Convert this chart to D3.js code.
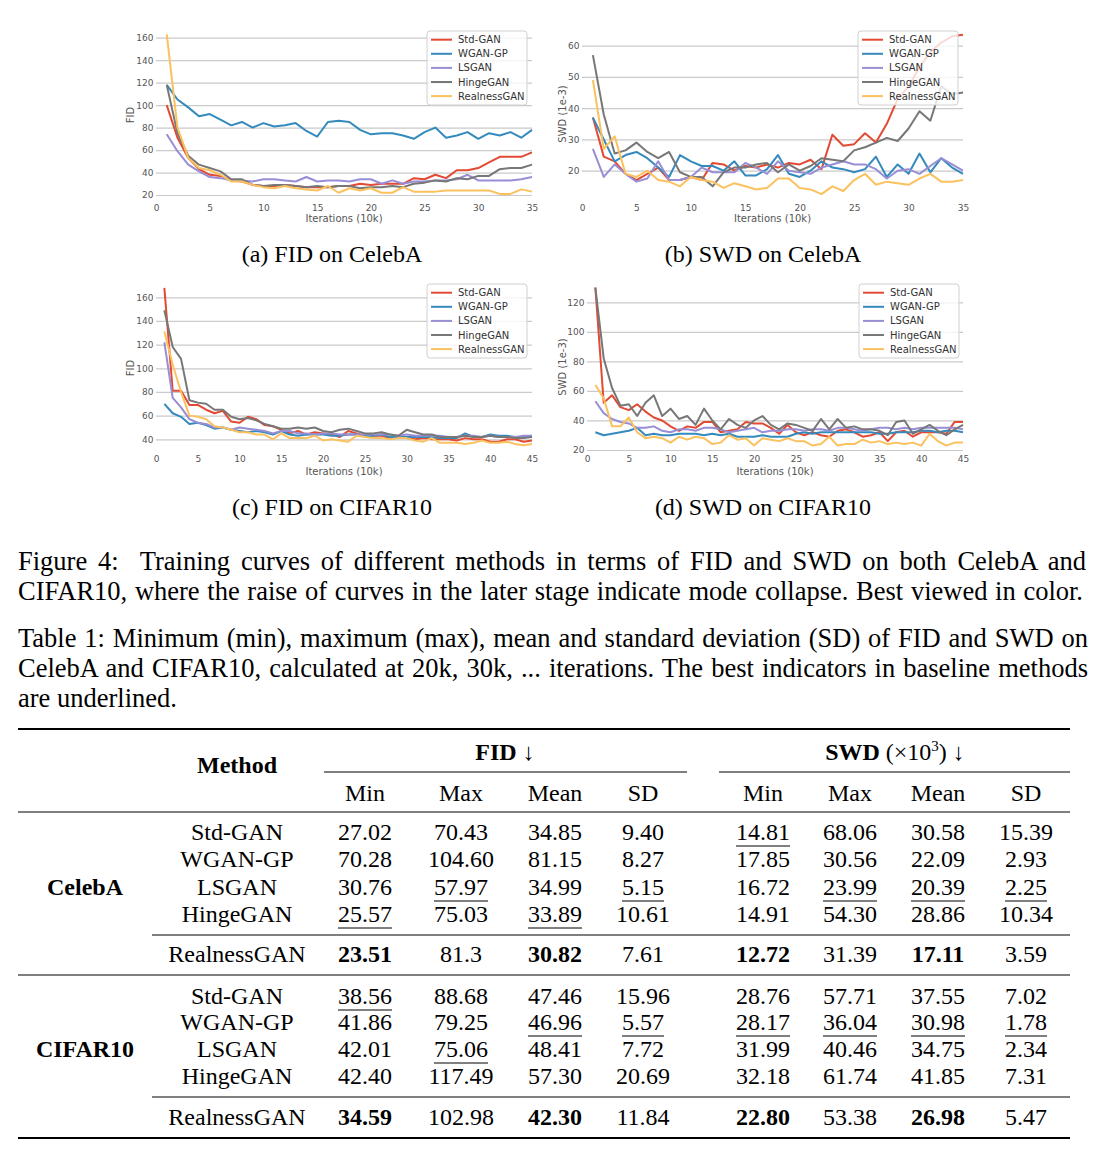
<!DOCTYPE html>
<html>
<head>
<meta charset="utf-8">
<script src="https://cdn.jsdelivr.net/npm/d3@7"></script>
<style>
  body { margin: 0; background: #fff; }
  svg text { font-family: "Liberation Serif", "Times New Roman", serif; }
  .plot text { font-family: "DejaVu Sans", sans-serif; }
</style>
</head>
<body>
<svg id="fig" width="1114" height="1156"></svg>
<script>
// ---- data ----
var methods = ["Std-GAN", "WGAN-GP", "LSGAN", "HingeGAN", "RealnessGAN"];
var palette = ["#E24A33", "#348ABD", "#988ED5", "#777777", "#FBC15E"];

// (a) FID on CelebA, iterations 1..35 (x10k)
var fidCelebaStd   = [100,71,53,43,38,37,33,32,29,28,28,29,28,27,27,27,28,28,30,29,30,30,30,35,34,38,35,42,42,44,49,54,54,54,58];
var fidCelebaWgan  = [118,105,98,90,92,87,82,85,80,84,81,82,84,77,72,85,86,85,78,74,75,75,73,70,76,80,71,73,76,70,75,73,76,71,78];
var fidCelebaLs    = [74,59,47,41,36,35,33,33,32,34,34,33,32,36,32,33,33,32,34,34,30,33,30,32,32,33,33,34,38,33,33,33,33,34,36];
var fidCelebaHinge = [118,75,55,47,44,41,34,34,29,28,29,29,28,27,28,27,28,28,26,27,27,28,27,30,31,33,32,35,34,37,37,43,44,44,47];
var fidCelebaReal  = [163,80,53,44,42,38,32,32,29,27,26,28,26,25,24,28,22,26,24,26,22,22,27,23,23,23,24,24,24,24,24,21,21,25,23];

// (b) SWD on CelebA (1e-3)
var swdCelebaStd   = [37,24.5,23,19,17,19,21,17,17,18,17,22.5,22,20,21.5,21,22,21,22.5,22,23.5,20.5,31.5,28,28.5,32,29,35,43,47,53,58,61,63,63.5];
var swdCelebaWgan  = [37,30,23,25,26,24,21,18,25,23,21.5,21.5,20,23,18.5,18.5,20.5,25,19,18,20,23,21,20.5,19.5,20.5,24.5,18,22,19,25.5,19.5,24,21,19];
var swdCelebaLs    = [27,18,22,19,16.5,17.5,23,17,17,18,21,19.5,19.5,19.5,22.5,21,19,23,20,19.5,19,21,22,23,22,22,20.5,17.5,20,20.5,19,21.5,24,22,20];
var swdCelebaHinge = [57,38,25.5,26.5,29,26,24,26,19.5,18,18,15,19.5,21,21,22,22.5,19.5,22,20,21.5,24,23.5,23,26.5,27.5,29,30.5,29.5,33.5,39,36,47,44.5,45];
var swdCelebaReal  = [49,27,31,19,18,20,17,16.5,15,18,17,16.5,14.5,16,15,14,14.5,17.5,17.5,14.5,14,12.5,15,13.5,17,19,15.5,16.5,16,15.5,17.5,19,16.5,16.5,17];

// (c) FID on CIFAR10, iterations 1..45
var fidCifarStd   = [168,81,81,69,69,65,62,64,55,54,59,57,52,51,48,45,47,44,46,45,44,42,47,45,43,43,43,41,42,41,40,41,40,40,40,39,41,40,40,38,38,40,40,38,39];
var fidCifarWgan  = [70,62,59,53,54,52,49,50,48,47,46,47,46,44,47,44,43,44,44,44,43,43,44,44,43,43,44,42,42,42,42,42,42,41,41,41,45,42,42,44,43,43,42,42,43];
var fidCifarLs    = [122,75,67,57,54,53,50,50,48,50,49,48,47,45,47,47,45,45,44,45,45,44,44,44,44,44,44,44,43,44,43,43,43,43,42,42,43,43,42,43,42,42,42,43,43];
var fidCifarHinge = [149,118,108,73,71,70,65,65,59,57,58,56,53,51,49,49,50,49,50,47,46,48,49,47,45,45,46,44,43,48,46,44,44,42,42,42,43,42,42,43,42,42,41,41,42];
var fidCifarReal  = [131,103,80,60,59,57,51,50,48,46,46,44,44,40,45,41,41,41,43,39,40,39,38,43,42,41,41,40,41,41,39,38,41,37,37,37,36,37,39,37,37,38,36,35,36];

// (d) SWD on CIFAR10 (1e-3)
var swdCifarStd   = [130,52,57,49,47,51,46,42,40,36,33,36,35,39,39,32,33,34,39,38,38,35,31,37,32,30,32,30,29,33,34,32,29,30,32,26,32,33,29,32,32,32,31,39,39];
var swdCifarWgan  = [32,30,31,32,33,35,30,31,30,30,31,31,31,30,31,30,31,29,29,29,30,29,29,29,31,32,31,32,32,32,32,32,32,32,31,31,32,32,32,33,33,32,33,33,32];
var swdCifarLs    = [53,45,41,39,38,35,35,36,33,32,34,34,33,35,35,34,32,33,34,35,32,33,33,34,34,33,34,34,33,35,35,34,33,34,35,35,34,35,34,35,35,35,35,35,34];
var swdCifarHinge = [130,82,62,50,51,43,52,57,43,48,41,43,37,48,40,34,41,37,35,40,43,37,34,38,37,35,33,41,34,41,35,36,34,34,33,30,39,40,31,34,37,33,30,34,37];
var swdCifarReal  = [64,55,36,36,42,32,28,29,28,25,29,27,29,28,24,25,30,27,28,23,28,27,26,28,26,26,23,24,29,23,24,24,27,25,26,24,25,24,25,23,31,26,23,25,25];

// table 1
var tableCols = ["Min", "Max", "Mean", "SD"];
var celebaFid = [["27.02","70.43","34.85","9.40"],["70.28","104.60","81.15","8.27"],["30.76","57.97","34.99","5.15"],["25.57","75.03","33.89","10.61"],["23.51","81.3","30.82","7.61"]];
var celebaSwd = [["14.81","68.06","30.58","15.39"],["17.85","30.56","22.09","2.93"],["16.72","23.99","20.39","2.25"],["14.91","54.30","28.86","10.34"],["12.72","31.39","17.11","3.59"]];
var cifarFid  = [["38.56","88.68","47.46","15.96"],["41.86","79.25","46.96","5.57"],["42.01","75.06","48.41","7.72"],["42.40","117.49","57.30","20.69"],["34.59","102.98","42.30","11.84"]];
var cifarSwd  = [["28.76","57.71","37.55","7.02"],["28.17","36.04","30.98","1.78"],["31.99","40.46","34.75","2.34"],["32.18","61.74","41.85","7.31"],["22.80","53.38","26.98","5.47"]];
// underlined cells: [row, col] with col 0-3 FID, 4-7 SWD
var celebaUnder = [[0,4],[2,1],[2,3],[2,5],[2,6],[2,7],[3,0],[3,2]];
var cifarUnder  = [[0,0],[1,2],[1,3],[1,4],[1,5],[1,6],[1,7],[2,1]];
var boldCols = [0, 2, 4, 6]; // on the RealnessGAN row

var svg = d3.select("#fig");
svg.append("rect").attr("width", 1114).attr("height", 1156).attr("fill", "#fff");

function drawChart(c) {
    var g = svg.append("g").attr("class", "plot");
    var x = d3.scaleLinear().domain([0, c.xMax]).range([c.left, c.right]);
    var y = d3.scaleLinear().domain(c.yDomain).range(c.yRange);

    var ya = g.append("g")
        .attr("transform", "translate(" + c.left + ",0)")
        .call(d3.axisLeft(y).tickValues(c.yTicks).tickSize(-(c.right - c.left)).tickPadding(2.5));
    ya.select(".domain").remove();
    ya.selectAll("line").attr("stroke", "#cacaca").attr("stroke-width", 1.2);
    ya.selectAll("text").attr("fill", "#555").style("font-size", "9px").style("font-family", "DejaVu Sans");

    var xa = g.append("g")
        .attr("transform", "translate(0," + (c.xLabelY - 0.71 * 9) + ")")
        .call(d3.axisBottom(x).ticks(c.xMax / 5).tickSize(0).tickPadding(0));
    xa.select(".domain").remove();
    xa.selectAll("text").attr("fill", "#555").style("font-size", "9px").style("font-family", "DejaVu Sans");

    g.append("text")
        .attr("x", (c.left + c.right) / 2).attr("y", c.xTitleY)
        .attr("text-anchor", "middle").attr("fill", "#555")
        .style("font-size", "10px")
        .text("Iterations (10k)");
    g.append("text")
        .attr("transform", "translate(" + c.yTitleX + "," + c.yTitleY + ") rotate(-90)")
        .attr("text-anchor", "middle").attr("fill", "#555")
        .style("font-size", "10px")
        .text(c.yTitle);

    var line = d3.line()
        .x(function (d, i) { return x(i + 1); })
        .y(function (d) { return y(d); });

    g.selectAll("path.series")
        .data(c.series)
        .enter().append("path")
        .attr("class", "series")
        .attr("d", line)
        .attr("fill", "none")
        .attr("stroke", function (d, i) { return palette[i]; })
        .attr("stroke-width", 2)
        .attr("stroke-linejoin", "round");

    // legend
    var lg = g.append("g").attr("transform", "translate(" + c.legendX + "," + c.legendY + ")");
    lg.append("rect")
        .attr("width", 100).attr("height", 74).attr("rx", 3)
        .attr("fill", "#fff").attr("fill-opacity", 0.8)
        .attr("stroke", "#d0d0d0");
    var item = lg.selectAll("g.item")
        .data(methods)
        .enter().append("g")
        .attr("transform", function (d, i) { return "translate(0," + (8.7 + i * 14.1) + ")"; });
    item.append("line")
        .attr("x1", 4).attr("x2", 25)
        .attr("stroke", function (d, i) { return palette[i]; })
        .attr("stroke-width", 2);
    item.append("text")
        .attr("x", 31).attr("dy", "0.35em")
        .attr("fill", "#333")
        .style("font-size", "10px")
        .text(function (d) { return d; });
}

drawChart({
    left: 156, right: 532, xMax: 35, yDomain: [20, 160], yRange: [195, 37.7], yTicks: d3.range(20, 161, 20),
    series: [fidCelebaStd, fidCelebaWgan, fidCelebaLs, fidCelebaHinge, fidCelebaReal],
    xLabelY: 210.5, xTitleY: 222, yTitle: "FID", yTitleX: 134, yTitleY: 115,
    legendX: 427, legendY: 31
});
drawChart({
    left: 582, right: 963, xMax: 35, yDomain: [20, 60], yRange: [170.7, 45.7], yTicks: [20, 30, 40, 50, 60],
    series: [swdCelebaStd, swdCelebaWgan, swdCelebaLs, swdCelebaHinge, swdCelebaReal],
    xLabelY: 210.5, xTitleY: 222, yTitle: "SWD (1e-3)", yTitleX: 566, yTitleY: 114,
    legendX: 858, legendY: 31
});
drawChart({
    left: 156, right: 532, xMax: 45, yDomain: [40, 160], yRange: [439.3, 297.3], yTicks: d3.range(40, 161, 20),
    series: [fidCifarStd, fidCifarWgan, fidCifarLs, fidCifarHinge, fidCifarReal],
    xLabelY: 461.5, xTitleY: 474.5, yTitle: "FID", yTitleX: 134, yTitleY: 368,
    legendX: 427, legendY: 284
});
drawChart({
    left: 587, right: 963, xMax: 45, yDomain: [20, 120], yRange: [450, 302.3], yTicks: d3.range(20, 121, 20),
    series: [swdCifarStd, swdCifarWgan, swdCifarLs, swdCifarHinge, swdCifarReal],
    xLabelY: 461.5, xTitleY: 474.5, yTitle: "SWD (1e-3)", yTitleX: 566, yTitleY: 367,
    legendX: 859, legendY: 284
});

// sub captions
var subCaps = [
    { t: "(a) FID on CelebA", x: 332, y: 262 },
    { t: "(b) SWD on CelebA", x: 763, y: 262 },
    { t: "(c) FID on CIFAR10", x: 332, y: 515 },
    { t: "(d) SWD on CIFAR10", x: 763, y: 515 }
];
svg.selectAll("text.subcap").data(subCaps).enter().append("text")
    .attr("class", "subcap")
    .attr("x", function (d) { return d.x; }).attr("y", function (d) { return d.y; })
    .attr("text-anchor", "middle").style("font-size", "24px")
    .text(function (d) { return d.t; });

// captions, lines justified by widening the word gaps
var capLines = [
    { t: "Figure 4:  Training curves of different methods in terms of FID and SWD on both CelebA and", y: 570, w: 1068 },
    { t: "CIFAR10, where the raise of curves in the later stage indicate mode collapse. Best viewed in color.", y: 600, w: 1065 },
    { t: "Table 1: Minimum (min), maximum (max), mean and standard deviation (SD) of FID and SWD on", y: 647, w: 1070 },
    { t: "CelebA and CIFAR10, calculated at 20k, 30k, ... iterations. The best indicators in baseline methods", y: 677, w: 1070 },
    { t: "are underlined.", y: 707, w: 0 }
];
capLines.forEach(function (d) {
    var t = svg.append("text").attr("x", 18).attr("y", d.y)
        .style("font-size", "26.5px").style("white-space", "pre").text(d.t);
    if (d.w) {
        var nat = t.node().getComputedTextLength();
        var gaps = d.t.split(" ").length - 1;
        if (nat < d.w) t.style("word-spacing", ((d.w - nat) / gaps) + "px");
        else t.attr("textLength", d.w).attr("lengthAdjust", "spacingAndGlyphs");
    }
});

// ---- table ----
var tg = svg.append("g").style("font-size", "24px");
var colX = [365, 461, 555, 643, 763, 850, 938, 1026];
var methodX = 237, groupX = 85;

function rule(x1, x2, y, w) {
    tg.append("line").attr("x1", x1).attr("x2", x2).attr("y1", y).attr("y2", y)
        .attr("stroke", "#000").attr("stroke-width", w);
}
rule(18, 1070, 729, 2);
rule(324, 687, 772, 1);
rule(719, 1070, 772, 1);
rule(18, 1070, 812, 1.2);
rule(152, 1070, 935, 1);
rule(18, 1070, 975, 1.2);
rule(152, 1070, 1097, 1);
rule(18, 1070, 1138, 2);

tg.append("text").attr("x", methodX).attr("y", 773).attr("text-anchor", "middle")
    .style("font-weight", "bold").text("Method");
tg.append("text").attr("x", 505).attr("y", 760).attr("text-anchor", "middle")
    .call(function (t) {
        t.append("tspan").style("font-weight", "bold").text("FID");
        t.append("tspan").text(" \u2193");
    });
tg.append("text").attr("x", 895).attr("y", 760).attr("text-anchor", "middle")
    .call(function (t) {
        t.append("tspan").style("font-weight", "bold").text("SWD");
        t.append("tspan").text(" (\u00d710");
        t.append("tspan").attr("dy", -9).style("font-size", "15px").text("3");
        t.append("tspan").attr("dy", 9).text(")\u00a0\u2193");
    });
tg.selectAll("text.colhead").data(tableCols.concat(tableCols)).enter().append("text")
    .attr("class", "colhead")
    .attr("x", function (d, i) { return colX[i]; }).attr("y", 801)
    .attr("text-anchor", "middle").text(function (d) { return d; });

function drawBlock(name, fid, swd, under, rowY, groupY) {
    tg.append("text").attr("x", groupX).attr("y", groupY).attr("text-anchor", "middle")
        .style("font-weight", "bold").text(name);
    methods.forEach(function (m, r) {
        tg.append("text").attr("x", methodX).attr("y", rowY[r]).attr("text-anchor", "middle").text(m);
        var vals = fid[r].concat(swd[r]);
        vals.forEach(function (v, c) {
            var t = tg.append("text").attr("x", colX[c]).attr("y", rowY[r])
                .attr("text-anchor", "middle").text(v);
            if (r === 4 && boldCols.indexOf(c) >= 0) t.style("font-weight", "bold");
            var isU = under.some(function (u) { return u[0] === r && u[1] === c; });
            if (isU) {
                var w = t.node().getComputedTextLength();
                tg.append("line")
                    .attr("x1", colX[c] - w / 2).attr("x2", colX[c] + w / 2)
                    .attr("y1", rowY[r] + 6).attr("y2", rowY[r] + 6)
                    .attr("stroke", "#000").attr("stroke-width", 1);
            }
        });
    });
}
drawBlock("CelebA", celebaFid, celebaSwd, celebaUnder, [840, 867, 895, 922, 962], 895);
drawBlock("CIFAR10", cifarFid, cifarSwd, cifarUnder, [1004, 1030, 1057, 1084, 1125], 1057);
</script>
</body>
</html>
